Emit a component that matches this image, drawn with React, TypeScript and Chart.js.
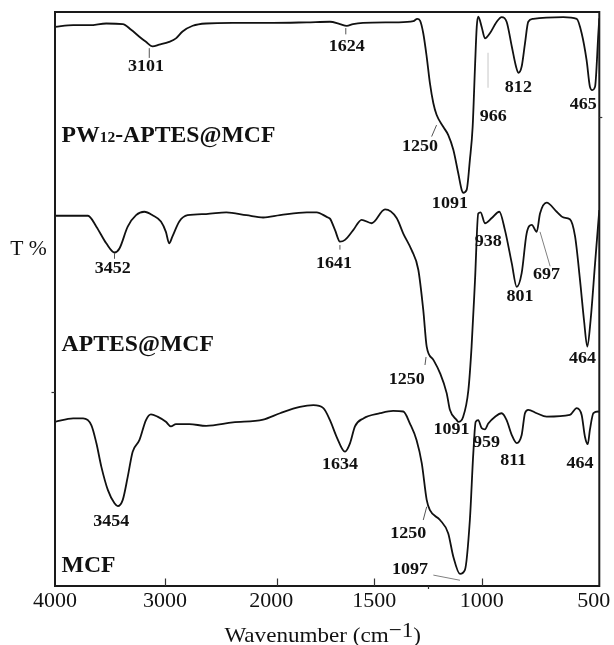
import React, { useEffect, useRef } from 'react';
import { Chart, LineController, LineElement, PointElement, LinearScale } from 'chart.js';

// ---------- axis definition (FTIR axis with expanded low-wavenumber region) ----------
const AXIS_TICKS = [4000, 3000, 2000, 1500, 1000, 500];
const AXIS_TICK_FRACTIONS = [0, 0.2021, 0.4073, 0.5866, 0.7839, 1];
const MINOR_TICKS = [1250];

// ---------- spectra ----------
const PW_WN = [4000, 3835, 3684, 3534, 3384, 3308, 3233, 3173, 3113, 3053, 2963, 2902, 2843, 2752, 2632, 2394, 2033, 1846, 1727, 1676, 1641, 1609, 1558, 1396, 1318, 1300, 1287, 1272, 1256, 1241, 1225, 1210, 1179, 1156, 1132, 1109, 1093, 1086, 1070, 1055, 1042, 1031, 1023, 1016, 1000, 986, 965, 936, 915, 894, 872, 854, 844, 830, 816, 802, 781, 653, 596, 575, 554, 540, 530, 518, 504, 500];
const PW_T = [97.4, 97.7, 97.7, 98.0, 97.9, 96.9, 95.7, 94.8, 94.0, 94.3, 94.8, 95.4, 96.6, 97.6, 98.0, 98.1, 98.1, 98.2, 98.3, 97.9, 97.6, 97.9, 98.1, 98.2, 98.4, 98.8, 98.5, 96.3, 92.2, 87.6, 84.1, 82.1, 80.0, 78.6, 76.0, 71.9, 69.0, 68.5, 69.0, 74.2, 80.0, 90.5, 97.4, 99.2, 97.4, 95.4, 96.3, 98.3, 99.1, 98.3, 94.0, 90.5, 89.4, 90.5, 94.5, 98.3, 98.8, 99.1, 98.8, 96.3, 91.6, 87.0, 86.4, 87.0, 96.3, 98.9];

const APTES_WN = [4000, 3835, 3700, 3624, 3534, 3459, 3414, 3339, 3263, 3188, 3113, 3037, 2992, 2963, 2933, 2872, 2798, 2632, 2451, 2271, 2121, 1983, 1846, 1795, 1744, 1727, 1701, 1676, 1650, 1608, 1565, 1513, 1450, 1396, 1365, 1326, 1295, 1272, 1256, 1225, 1194, 1163, 1148, 1116, 1109, 1086, 1062, 1047, 1031, 1016, 1005, 986, 957, 925, 901, 872, 851, 830, 809, 787, 766, 752, 724, 681, 653, 625, 603, 582, 565, 551, 537, 518, 500];
const APTES_T = [64.5, 64.5, 64.5, 62.6, 59.7, 58.1, 58.8, 62.6, 64.6, 65.2, 64.6, 63.5, 61.7, 59.7, 60.9, 63.5, 64.6, 64.8, 65.1, 64.6, 64.2, 64.6, 65.1, 65.1, 64.3, 64.0, 62.0, 60.0, 60.3, 62.0, 63.8, 63.2, 65.6, 64.1, 61.4, 58.5, 55.1, 48.1, 41.7, 39.4, 37.1, 33.6, 30.7, 28.9, 28.6, 29.5, 34.1, 41.7, 53.3, 64.9, 65.1, 63.2, 64.1, 65.2, 62.0, 56.2, 52.1, 54.5, 61.4, 62.9, 61.7, 64.9, 66.8, 65.2, 64.2, 63.9, 60.9, 53.3, 46.3, 41.7, 46.3, 56.2, 65.5];

const MCF_WN = [4000, 3835, 3745, 3669, 3624, 3579, 3519, 3459, 3429, 3384, 3339, 3294, 3233, 3173, 3128, 3068, 2992, 2947, 2902, 2782, 2632, 2392, 2121, 1983, 1881, 1812, 1761, 1727, 1693, 1650, 1624, 1599, 1556, 1473, 1412, 1365, 1334, 1303, 1279, 1256, 1241, 1194, 1156, 1132, 1101, 1078, 1055, 1039, 1028, 1016, 1000, 986, 972, 943, 915, 894, 872, 851, 830, 816, 802, 766, 724, 625, 596, 575, 561, 549, 540, 525, 504, 500];
const MCF_T = [28.6, 29.2, 29.2, 28.0, 24.9, 20.8, 16.7, 14.4, 13.9, 15.0, 19.0, 23.4, 25.4, 28.9, 29.9, 29.5, 28.6, 27.8, 28.2, 28.2, 27.9, 28.5, 29.0, 30.1, 31.2, 31.5, 31.0, 28.9, 26.0, 23.4, 24.9, 27.8, 29.2, 30.1, 30.5, 30.4, 28.3, 25.4, 21.4, 15.0, 13.2, 11.5, 9.2, 5.1, 2.1, 2.8, 11.5, 23.1, 28.6, 28.9, 27.5, 27.3, 28.3, 29.5, 30.1, 28.9, 26.3, 24.9, 26.3, 30.1, 30.7, 30.1, 29.5, 29.8, 31.0, 29.8, 26.0, 24.7, 27.2, 30.1, 30.4, 30.3];

// ---------- annotations: [text, wavenumber, T] ----------
const SAMPLE_NAMES = ['PW12-APTES@MCF', 'APTES@MCF', 'MCF'];
const SAMPLE_NAME_WN = [3940, 3940, 3940];
const SAMPLE_NAME_T = [77.3, 41.0, 2.5];

const PW_PEAKS: [string, number, number][] = [
  ['3101', 3173, 90.5], ['1624', 1641, 94.0], ['1250', 1287, 76.5], ['966', 951, 81.7],
  ['1091', 1148, 66.7], ['812', 844, 86.9], ['465', 568, 83.9],
];
const APTES_PEAKS: [string, number, number][] = [
  ['3452', 3474, 55.3], ['1641', 1706, 56.1], ['938', 972, 60.0], ['801', 837, 50.4],
  ['697', 724, 54.2], ['464', 571, 39.7], ['1250', 1349, 35.9], ['1091', 1140, 27.2],
];
const MCF_PEAKS: [string, number, number][] = [
  ['3454', 3488, 11.2], ['1634', 1676, 21.1], ['959', 979, 24.9], ['811', 866, 21.8],
  ['464', 582, 21.4], ['1250', 1342, 9.2], ['1097', 1334, 2.8],
];

// leader lines: [wn1, t1, wn2, t2, grey?]
const LEADERS: [number, number, number, number, number][] = [
  [3143, 93.7, 3143, 92.0, 0], [1646, 97.2, 1646, 96.1, 0], [1233, 78.3, 1210, 80.3, 0],
  [973, 92.9, 973, 86.8, 2],
  [3459, 58.0, 3459, 57.0, 0], [1676, 59.4, 1676, 58.6, 0], [752, 61.7, 709, 55.7, 1],
  [1259, 39.9, 1264, 38.5, 0],
  [1256, 13.8, 1272, 11.5, 0], [1225, 1.9, 1101, 1.0, 1],
];

const Y_MARKS_LEFT = [33.8];
const Y_MARKS_RIGHT = [81.7];

// ---------- custom scale ----------
function wnToFraction(w: number): number {
  const n = AXIS_TICKS.length;
  let i = 0;
  if (w >= AXIS_TICKS[0]) i = 0;
  else if (w <= AXIS_TICKS[n - 1]) i = n - 2;
  else {
    for (let k = 0; k < n - 1; k++) {
      if (w <= AXIS_TICKS[k] && w >= AXIS_TICKS[k + 1]) { i = k; break; }
    }
  }
  const t = (AXIS_TICKS[i] - w) / (AXIS_TICKS[i] - AXIS_TICKS[i + 1]);
  return AXIS_TICK_FRACTIONS[i] + t * (AXIS_TICK_FRACTIONS[i + 1] - AXIS_TICK_FRACTIONS[i]);
}
function fractionToWn(f: number): number {
  const n = AXIS_TICKS.length;
  let i = n - 2;
  for (let k = 0; k < n - 1; k++) {
    if (f >= AXIS_TICK_FRACTIONS[k] && f <= AXIS_TICK_FRACTIONS[k + 1]) { i = k; break; }
  }
  const t = (f - AXIS_TICK_FRACTIONS[i]) / (AXIS_TICK_FRACTIONS[i + 1] - AXIS_TICK_FRACTIONS[i]);
  return AXIS_TICKS[i] + t * (AXIS_TICKS[i + 1] - AXIS_TICKS[i]);
}

class WavenumberScale extends LinearScale {
  static id = 'wavenumber';
  static defaults = LinearScale.defaults;
  getPixelForValue(value: any) {
    if (value === null || value === undefined || isNaN(value)) return NaN;
    return this.getPixelForDecimal(wnToFraction(+value));
  }
  getValueForPixel(pixel: number) {
    return fractionToWn(this.getDecimalForPixel(pixel));
  }
}

Chart.register(LineController, LineElement, PointElement, LinearScale, WavenumberScale);

const SERIF = '"Liberation Serif", "Times New Roman", serif';
const INK = '#111';

function drawText(ctx: CanvasRenderingContext2D, text: string, x: number, y: number, font: string, align: CanvasTextAlign, sx: number, baseline: CanvasTextBaseline = 'middle') {
  ctx.save();
  ctx.font = font;
  ctx.textAlign = align;
  ctx.textBaseline = baseline;
  ctx.fillStyle = INK;
  ctx.translate(x, y);
  ctx.scale(sx, 1);
  ctx.fillText(text, 0, 0);
  ctx.restore();
}

const decorPlugin = {
  id: 'decor',
  afterDatasetsDraw(chart: any) {
    const ctx: CanvasRenderingContext2D = chart.ctx;
    const xs = chart.scales.x;
    const ys = chart.scales.y;
    const a = chart.chartArea;
    ctx.save();
    // frame
    ctx.strokeStyle = '#1a1a1a';
    ctx.lineWidth = 2;
    ctx.strokeRect(a.left, a.top, a.right - a.left, a.bottom - a.top);
    // inner major ticks
    ctx.lineWidth = 1.2;
    ctx.strokeStyle = '#333';
    AXIS_TICKS.slice(1, -1).forEach((v) => {
      const px = Math.round(xs.getPixelForValue(v)) + 0.5;
      ctx.beginPath(); ctx.moveTo(px, a.bottom); ctx.lineTo(px, a.bottom - 7.5); ctx.stroke();
    });
    MINOR_TICKS.forEach((v) => {
      const px = Math.round(xs.getPixelForValue(v)) + 0.5;
      ctx.beginPath(); ctx.moveTo(px, a.bottom); ctx.lineTo(px, a.bottom + 3); ctx.stroke();
    });
    Y_MARKS_LEFT.forEach((v) => {
      const py = Math.round(ys.getPixelForValue(v)) + 0.5;
      ctx.beginPath(); ctx.moveTo(a.left, py); ctx.lineTo(a.left - 3.5, py); ctx.stroke();
    });
    Y_MARKS_RIGHT.forEach((v) => {
      const py = Math.round(ys.getPixelForValue(v)) + 0.5;
      ctx.beginPath(); ctx.moveTo(a.right, py); ctx.lineTo(a.right + 3, py); ctx.stroke();
    });
    // leader lines
    LEADERS.forEach(([w1, t1, w2, t2, g]) => {
      ctx.strokeStyle = g === 2 ? '#c8c8c8' : g === 1 ? '#808080' : '#555';
      ctx.lineWidth = 1;
      ctx.beginPath();
      ctx.moveTo(xs.getPixelForValue(w1), ys.getPixelForValue(t1));
      ctx.lineTo(xs.getPixelForValue(w2), ys.getPixelForValue(t2));
      ctx.stroke();
    });
    // peak labels
    const peakFont = `bold 17px ${SERIF}`;
    [PW_PEAKS, APTES_PEAKS, MCF_PEAKS].forEach((list) => {
      list.forEach(([t, w, v]) => {
        drawText(ctx, t, xs.getPixelForValue(w), ys.getPixelForValue(v), peakFont, 'center', 1.06);
      });
    });
    // sample names (digits as small characters)
    SAMPLE_NAMES.forEach((name, i) => {
      let x = xs.getPixelForValue(SAMPLE_NAME_WN[i]);
      const y = ys.getPixelForValue(SAMPLE_NAME_T[i]);
      const parts = name.split(/(\d+)/).filter((p) => p.length);
      parts.forEach((p) => {
        const small = /^\d+$/.test(p);
        const font = `bold ${small ? 15 : 23}px ${SERIF}`;
        ctx.font = font;
        const wdt = ctx.measureText(p).width * 1.03;
        drawText(ctx, p, x, y, font, 'left', 1.03, 'alphabetic');
        x += wdt;
      });
    });
    // y title
    drawText(ctx, 'T %', a.left - 26.5, ys.getPixelForValue(58.5), `20px ${SERIF}`, 'center', 1.08);
    // x title with superscript
    const tf = `22px ${SERIF}`;
    ctx.font = tf;
    const sx = 1.05;
    const p1 = 'Wavenumber (cm';
    const p2 = '\u22121';
    const p3 = ')';
    const w1 = ctx.measureText(p1).width * sx;
    const w2 = ctx.measureText(p2).width * sx;
    const w3 = ctx.measureText(p3).width * sx;
    const total = w1 + w2 + w3;
    const cx = (a.left + a.right) / 2 - 4.5;
    const base = chart.height - 2.7;
    let x0 = cx - total / 2;
    drawText(ctx, p1, x0, base, tf, 'left', sx, 'alphabetic');
    x0 += w1;
    drawText(ctx, p2, x0, base - 5.6, tf, 'left', sx, 'alphabetic');
    x0 += w2;
    drawText(ctx, p3, x0, base, tf, 'left', sx, 'alphabetic');
    ctx.restore();
  },
};

function series(wn: number[], t: number[]) {
  return wn.map((w, i) => ({ x: w, y: t[i] }));
}

export default function App() {
  const ref = useRef<HTMLCanvasElement>(null);
  useEffect(() => {
    if (!ref.current) return;
    const common = {
      borderColor: INK,
      borderWidth: 1.8,
      pointRadius: 0,
      fill: false,
      cubicInterpolationMode: 'monotone' as const,
    };
    const chart = new Chart(ref.current, {
      type: 'line',
      data: {
        datasets: [
          { label: SAMPLE_NAMES[0], data: series(PW_WN, PW_T), ...common },
          { label: SAMPLE_NAMES[1], data: series(APTES_WN, APTES_T), ...common },
          { label: SAMPLE_NAMES[2], data: series(MCF_WN, MCF_T), ...common },
        ],
      },
      options: {
        animation: false,
        responsive: true,
        maintainAspectRatio: false,
        events: [],
        layout: { padding: { left: 55, right: 14.7, top: 12, bottom: 0 } },
        plugins: { legend: { display: false }, tooltip: { enabled: false } },
        scales: {
          x: {
            type: 'wavenumber' as any,
            position: 'bottom',
            min: 500,
            max: 4000,
            grid: { display: false, drawTicks: false },
            border: { display: false },
            ticks: {
              autoSkip: false,
              maxRotation: 0,
              minRotation: 0,
              padding: 2,
              color: INK,
              font: { family: SERIF, size: 22 },
              callback: (v: any) => (v === 500 ? '500\u2002' : v === 2000 ? '2000\u2002' : String(v)),
            },
            afterBuildTicks: (s: any) => {
              s.ticks = AXIS_TICKS.map((v) => ({ value: v }));
            },
            afterFit: (s: any) => {
              s.height = 59;
              s.paddingLeft = 0;
              s.paddingRight = 0;
            },
          } as any,
          y: { type: 'linear', min: 0, max: 100, display: false },
        },
      },
      plugins: [decorPlugin],
    });
    return () => chart.destroy();
  }, []);
  return (
    <div style={{ position: 'absolute', left: 0, top: 0, width: 614, height: 645, background: '#fff' }}>
      <canvas ref={ref} />
    </div>
  );
}
